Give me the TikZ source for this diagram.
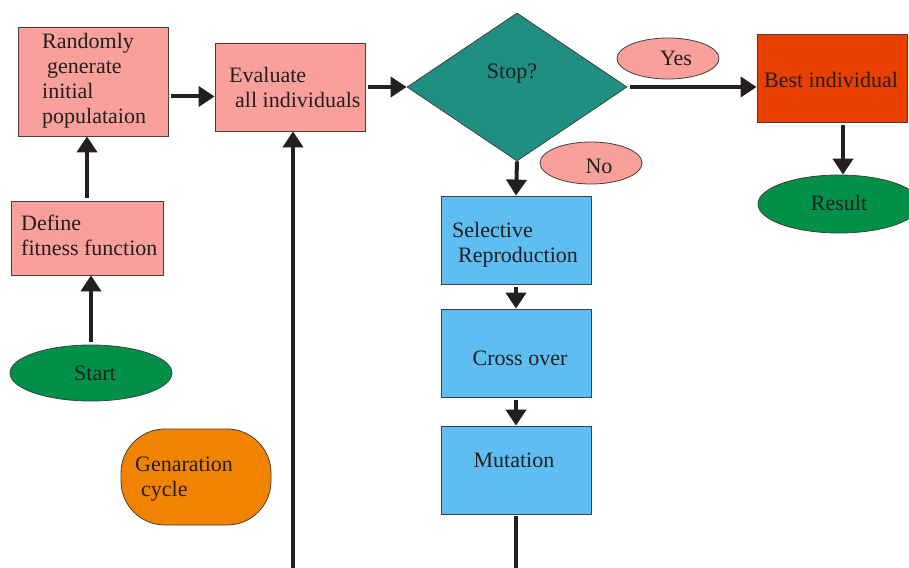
\documentclass[tikz,border=0pt]{standalone}
\usepackage{fontspec}
\setmainfont{Liberation Serif}
\usetikzlibrary{shapes.geometric,arrows.meta}
\definecolor{ink}{HTML}{231F20}
\definecolor{edge}{HTML}{404040}
\definecolor{pinkc}{RGB}{249,160,154}
\definecolor{tealc}{RGB}{31,143,130}
\definecolor{redc}{RGB}{233,63,0}
\definecolor{greenc}{RGB}{0,144,72}
\definecolor{bluec}{RGB}{94,190,242}
\definecolor{orangec}{RGB}{242,131,0}
\tikzset{
  box/.style={draw=edge, line width=0.8pt, inner sep=0pt, rectangle},
  oval/.style={draw=edge, line width=0.8pt, inner sep=0pt, ellipse},
  txt/.style={inner sep=0pt, text=ink, align=left, font=\fontsize{22pt}{25pt}\selectfont},
  arr/.style={draw=ink, line width=4pt, -{Triangle[length=16pt,width=20pt]}, shorten <=3pt},
  conn/.style={draw=ink, line width=4pt}
}
\begin{document}
\begin{tikzpicture}[x=1pt,y=-1pt]
\useasboundingbox (0,0) rectangle (909,567);
\clip (0,0) rectangle (909,567);
\fill[white] (0,0) rectangle (909,567);
% boxes
\node[box, fill=pinkc, minimum width=150pt, minimum height=109pt] (rand) at (93,81.5) {};
\node[box, fill=pinkc, minimum width=150pt, minimum height=88pt] (eval) at (290,87) {};
\node[box, fill=pinkc, minimum width=152pt, minimum height=74pt] (define) at (87,238) {};
\node[oval, fill=greenc, minimum width=162pt, minimum height=56pt] (start) at (91,373) {};
\node[box, fill=orangec, rounded corners=44pt, minimum width=150pt, minimum height=96pt] (gen) at (196,477) {};
\node[diamond, draw=edge, line width=0.8pt, inner sep=0pt, fill=tealc, minimum width=220pt, minimum height=148pt] (stop) at (517,87) {};
\node[oval, fill=pinkc, minimum width=102pt, minimum height=41pt] (yes) at (668,58.5) {};
\node[oval, fill=pinkc, minimum width=102pt, minimum height=42pt] (no) at (591,163) {};
\node[box, fill=redc, minimum width=150pt, minimum height=88pt] (best) at (832,78) {};
\node[oval, fill=greenc, minimum width=162pt, minimum height=58pt] (result) at (839,204) {};
\node[box, fill=bluec, minimum width=150pt, minimum height=88pt] (sel) at (516,240) {};
\node[box, fill=bluec, minimum width=150pt, minimum height=88pt] (cross) at (516,353) {};
\node[box, fill=bluec, minimum width=150pt, minimum height=88pt] (mut) at (516,470) {};
% texts
\node[txt, anchor=west] (randT) at (42,81) {Randomly\\\hspace{5pt}generate\\initial\\populataion};
\node[txt, anchor=west] (evalT) at (229,87) {Evaluate\\\hspace{6pt}all individuals};
\node[txt, anchor=west] (defineT) at (21,235.5) {Define\\fitness function};
\node[txt] (startT) at (95,373) {Start};
\node[txt, anchor=west] (genT) at (135,479) {Genaration\\\hspace{6pt}cycle};
\node[txt] (stopT) at (512,74) {Stop?};
\node[txt] (yesT) at (676,58) {Yes};
\node[txt] (noT) at (599,166) {No};
\node[txt] (bestT) at (831,80) {Best individual};
\node[txt] (resultT) at (839,203) {Result};
\node[txt, anchor=west] (selT) at (452,245) {Selective\\\hspace{6pt}Reproduction};
\node[txt] (crossT) at (520,358) {Cross over};
\node[txt] (mutT) at (514,460) {Mutation};
% connectors
\draw[arr] ([yshift=-15pt]rand.east) -- ([yshift=-15pt]rand.east -| eval.west);
\draw[arr] (eval.east) -- (stop.west);
\draw[arr] (stop.east) -- (stop.east -| best.west);
\draw[arr] ([xshift=11pt]best.south) -- ([xshift=11pt]best.south |- result.north);
\draw[arr, shorten <=0pt] (stop.south) -- (sel.north);
\draw[arr] (sel.south) -- (cross.north);
\draw[arr] (cross.south) -- (mut.north);
\draw[arr] (define.north) -- (define.north |- rand.south);
\draw[arr] (start.north) -- (start.north |- define.south);
\coordinate (loopA) at (516,590);
\coordinate (loopB) at (293,590);
\draw[conn, shorten <=2pt] (mut.south) -- (loopA) -- (loopB);
\draw[arr, shorten <=0pt] (loopB) -- (loopB |- eval.south);
\end{tikzpicture}
\end{document}
